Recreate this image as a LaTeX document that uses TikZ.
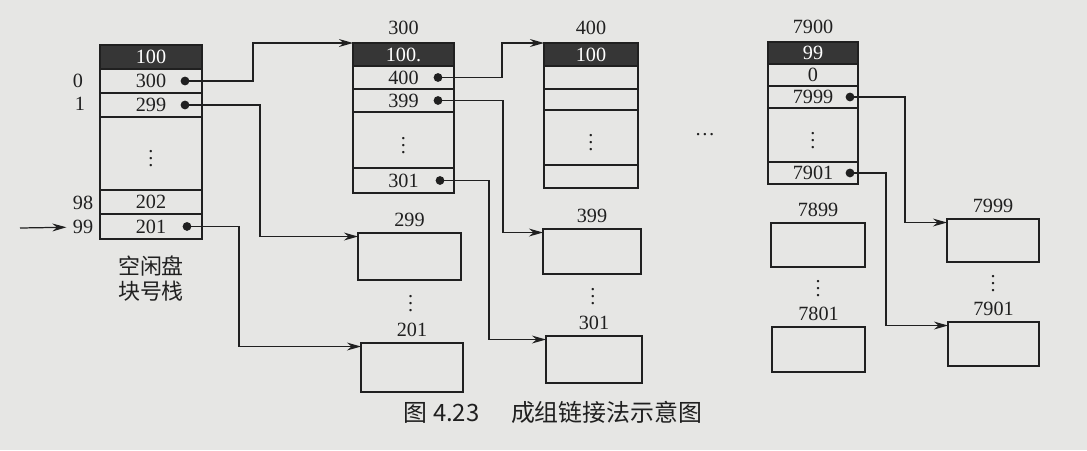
\documentclass[tikz,border=0pt]{standalone}
\usepackage{fontspec}
\setmainfont{Liberation Serif}
\newfontfamily\cjk{Noto Sans CJK SC}
\usetikzlibrary{arrows.meta}
\usetikzlibrary{positioning}
\usetikzlibrary{calc}

\definecolor{paper}{HTML}{E6E6E4}
\definecolor{ink}{HTML}{202020}
\definecolor{headgray}{HTML}{363636}

\tikzset{
  cell/.style={draw, outer sep=0pt, inner sep=0pt, minimum height=0.46cm},
  head/.style={cell, fill=headgray, text=white},
  blk/.style={draw, outer sep=0pt},
  pt/.style={circle, fill, inner sep=0pt, minimum size=5pt},
  link/.style={-{Stealth[length=8pt,width=4.5pt]}},
}

\begin{document}
\begin{tikzpicture}[x=0.02cm, y=-0.02cm, line width=0.7pt, color=ink,
    font=\fontsize{11.5}{13}\selectfont]
  \fill[paper] (0,0) rectangle (1087,450);
  \useasboundingbox (0,0) rectangle (1087,450);

  % stack in memory
  \begin{scope}[cell/.append style={minimum width=2.04cm, minimum height=0.48cm}]
    \node[head] (s1-h) at (151,57) {100};
    \node[cell, below=0pt of s1-h] (s1-0) {300};
    \node[cell, below=0pt of s1-0] (s1-1) {299};
    \node[cell, below=0pt of s1-1, minimum height=1.46cm] (s1-d) {$\vdots$};
    \node[cell, below=0pt of s1-d] (s1-98) {202};
    \node[cell, below=0pt of s1-98, minimum height=0.5cm] (s1-99) {201};
  \end{scope}
  \node[pt] (d1-0) at ([xshift=-0.34cm]s1-0.east) {};
  \node[pt] (d1-1) at ([xshift=-0.34cm]s1-1.east) {};
  \node[pt] (d1-99) at ([xshift=-0.30cm]s1-99.east) {};
  \node (i0) at (78,81) {0};
  \node (i1) at (80,104) {1};
  \node (i98) at (83,203) {98};
  \node (i99) at (83,227) {99};
  \coordinate (in) at (20,228);
  \draw[link] (in) -- (i99);
  \node[below=0.2cm of s1-99, align=center,
    font=\cjk\fontsize{12.5}{14.5}\selectfont] (stk) {空闲盘\\块号栈};

  % group 300
  \begin{scope}[cell/.append style={minimum width=2.02cm}]
    \node[head] (s2-h) at (403.5,54.5) {100.};
    \node[cell, below=0pt of s2-h] (s2-0) {400};
    \node[cell, below=0pt of s2-0] (s2-1) {399};
    \node[cell, below=0pt of s2-1, minimum height=1.12cm] (s2-d) {$\vdots$};
    \node[cell, below=0pt of s2-d, minimum height=0.5cm] (s2-r) {301};
  \end{scope}
  \node[above=1pt of s2-h] (l300) {300};
  \node[pt] (d2-0) at ([xshift=-0.32cm]s2-0.east) {};
  \node[pt] (d2-1) at ([xshift=-0.32cm]s2-1.east) {};
  \node[pt] (d2-r) at ([xshift=-0.28cm]s2-r.east) {};

  % group 400
  \begin{scope}[cell/.append style={minimum width=1.88cm}]
    \node[head] (s3-h) at (591,54.5) {100};
    \node[cell, below=0pt of s3-h] (s3-0) {};
    \node[cell, below=0pt of s3-0, minimum height=0.42cm] (s3-1) {};
    \node[cell, below=0pt of s3-1, minimum height=1.1cm] (s3-d) {$\vdots$};
    \node[cell, below=0pt of s3-d] (s3-r) {};
  \end{scope}
  \node[above=1pt of s3-h] (l400) {400};

  \node (more) at (705,135) {\dots};

  % group 7900
  \begin{scope}[cell/.append style={minimum width=1.8cm, minimum height=0.44cm}]
    \node[head] (s4-h) at (813,53) {99};
    \node[cell, below=0pt of s4-h] (s4-0) {0};
    \node[cell, below=0pt of s4-0] (s4-1) {7999};
    \node[cell, below=0pt of s4-1, minimum height=1.08cm] (s4-d) {$\vdots$};
    \node[cell, below=0pt of s4-d] (s4-r) {7901};
  \end{scope}
  \node[above=1pt of s4-h] (l7900) {7900};
  \node[pt] (d4-1) at ([xshift=-0.16cm]s4-1.east) {};
  \node[pt] (d4-r) at ([xshift=-0.16cm]s4-r.east) {};

  % free blocks
  \node[blk, minimum width=2.06cm, minimum height=0.94cm] (b299) at (409.5,256.5) {};
  \node[blk, minimum width=2.04cm, minimum height=0.98cm] (b201) at (412,367.5) {};
  \node[blk, minimum width=1.96cm, minimum height=0.9cm] (b399) at (592,251.5) {};
  \node[blk, minimum width=1.92cm, minimum height=0.94cm] (b301) at (594,359.5) {};
  \node[blk, minimum width=1.88cm, minimum height=0.88cm] (b7899) at (818,245) {};
  \node[blk, minimum width=1.86cm, minimum height=0.9cm] (b7801) at (818.5,349.5) {};
  \node[blk, minimum width=1.84cm, minimum height=0.86cm] (b7999) at (993,240.5) {};
  \node[blk, minimum width=1.82cm, minimum height=0.88cm] (b7901) at (993.5,344) {};
  \foreach \b in {299,201,399,301,7899,7801,7999,7901}
    \node[above=0pt of b\b] (l\b) {\b};
  \node (v2) at ($(b299.south)!.5!(l201.north)$) {$\vdots$};
  \node (v3) at ($(b399.south)!.5!(l301.north)$) {$\vdots$};
  \node (v4) at ($(b7899.south)!.5!(l7801.north)$) {$\vdots$};
  \node (v5) at ($(b7999.south)!.5!(l7901.north)$) {$\vdots$};

  % links
  \draw[link] (d1-0.center) -- ++(1.36cm,0) |- (s2-h.north west);
  \draw[link] (d1-1.center) -- ++(1.5cm,0) |- ([yshift=-2pt]b299.north west);
  \draw[link] (d1-99.center) -- ++(1.04cm,0) |- ([yshift=-2pt]b201.north west);
  \draw[link] (d2-0.center) -- ++(1.28cm,0) |- (s3-h.north west);
  \draw[link] (d2-1.center) -- ++(1.3cm,0) |- ([yshift=-2pt]b399.north west);
  \draw[link] (d2-r.center) -- ++(0.98cm,0) |- ([yshift=-2pt]b301.north west);
  \draw[link] (d4-1.center) -- ++(1.1cm,0) |- ([yshift=-2pt]b7999.north west);
  \draw[link] (d4-r.center) -- ++(0.72cm,0) |- ([yshift=-2pt]b7901.north west);

  \node[font=\cjk\fontsize{13.6}{16}\selectfont] (cap) at (553,412)
    {图 4.23\hspace{18pt}成组链接法示意图};
\end{tikzpicture}
\end{document}
